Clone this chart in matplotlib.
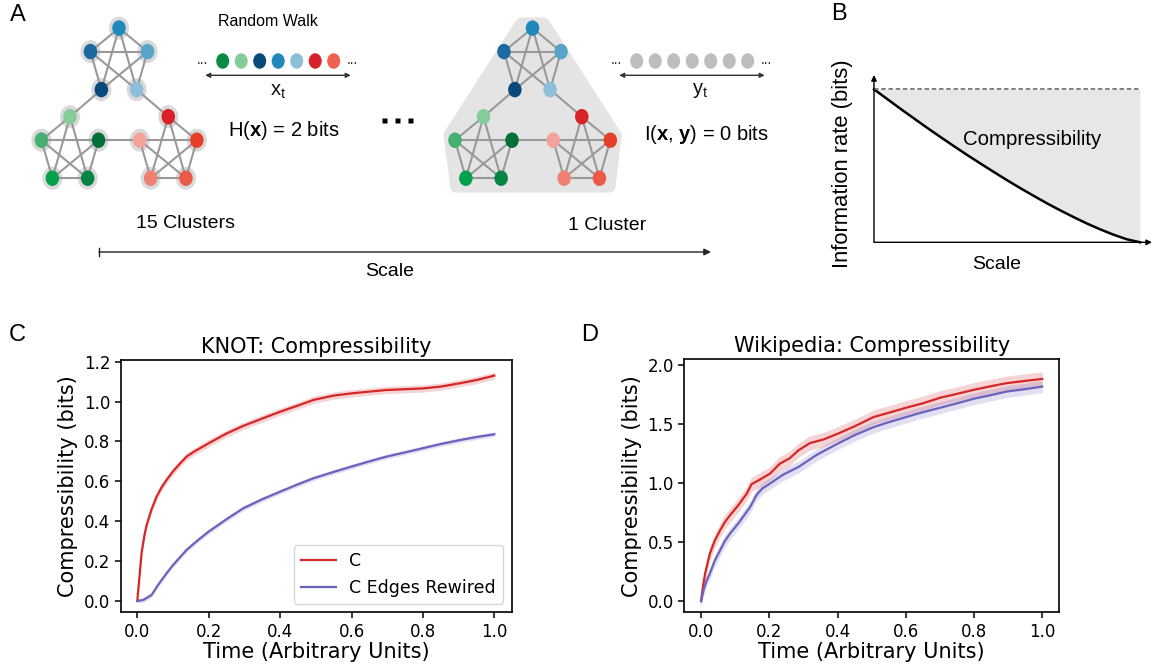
import numpy as np
import matplotlib
matplotlib.use("Agg")
import matplotlib.pyplot as plt
from matplotlib.patches import Ellipse, Polygon

plt.rcParams['font.family'] = ['DejaVu Sans']
plt.rcParams['mathtext.fontset'] = 'custom'
plt.rcParams['mathtext.rm'] = 'Liberation Sans'
plt.rcParams['mathtext.it'] = 'Liberation Sans:italic'
plt.rcParams['mathtext.bf'] = 'Liberation Sans:bold'
SANS = 'Liberation Sans'

# ---------------- data ----------------
# Panel A: modular network, node colours per cluster [top, upper-left, upper-right, lower-left, lower-right]
cluster_colors = [
    ['#2189b9', '#1c6aa0', '#5aa3c8', '#0a4a7a', '#8ebfd8'],   # blue module
    ['#86cc9a', '#45b070', '#03703a', '#04a04c', '#0a8443'],   # green module
    ['#d7222a', '#f4a39a', '#e4402a', '#f08072', '#ea5a48'],   # red module
]
walk_colors = ['#0b8a44', '#86cc9a', '#0a4a7a', '#2189b9', '#8ebfd8', '#d7222a', '#ee6150']
walk_gray = ['#bdbdbd'] * 7

# Panel B: schematic information rate vs scale
b_scale = [0.0, 0.05, 0.1, 0.15, 0.2, 0.25, 0.3, 0.35, 0.4, 0.45, 0.5,
           0.55, 0.6, 0.65, 0.7, 0.75, 0.8, 0.85, 0.9, 0.95, 1.0]
b_rate = [1.0, 0.936, 0.872, 0.810, 0.748, 0.688, 0.629, 0.571, 0.515, 0.460, 0.406,
          0.354, 0.304, 0.255, 0.209, 0.165, 0.123, 0.085, 0.050, 0.020, 0.0]

# Panel C: KNOT
knot_c_t = [0, 0.005, 0.012, 0.02, 0.026, 0.04, 0.054, 0.068, 0.082, 0.1, 0.12, 0.138, 0.16,
            0.2, 0.25, 0.297, 0.35, 0.4, 0.45, 0.493, 0.55, 0.6, 0.65, 0.698, 0.75, 0.8,
            0.85, 0.904, 0.95, 1.0]
knot_c = [0, 0.10, 0.24, 0.33, 0.38, 0.46, 0.523, 0.57, 0.607, 0.65, 0.69, 0.724, 0.75,
          0.791, 0.84, 0.878, 0.915, 0.949, 0.98, 1.008, 1.03, 1.041, 1.05, 1.058, 1.062, 1.066,
          1.075, 1.092, 1.108, 1.13]
knot_r_t = [0, 0.017, 0.04, 0.06, 0.082, 0.1, 0.138, 0.17, 0.2, 0.25, 0.297, 0.35, 0.4, 0.45,
            0.493, 0.55, 0.6, 0.65, 0.698, 0.75, 0.8, 0.85, 0.904, 0.95, 1.0]
knot_r = [0, 0.005, 0.03, 0.085, 0.139, 0.18, 0.256, 0.305, 0.348, 0.41, 0.465, 0.51, 0.548,
          0.585, 0.615, 0.647, 0.674, 0.70, 0.724, 0.745, 0.766, 0.787, 0.807, 0.822, 0.836]
knot_c_err = 0.018
knot_r_err = 0.012

# Panel D: Wikipedia
wiki_c_t = [0, 0.006, 0.012, 0.026, 0.04, 0.056, 0.07, 0.085, 0.109, 0.134, 0.148, 0.17, 0.202,
            0.231, 0.26, 0.285, 0.319, 0.36, 0.4, 0.45, 0.505, 0.55, 0.6, 0.65, 0.70, 0.75,
            0.798, 0.85, 0.896, 0.95, 1.0]
wiki_c = [0, 0.13, 0.234, 0.403, 0.51, 0.6, 0.67, 0.727, 0.811, 0.91, 0.99, 1.025, 1.079,
          1.164, 1.21, 1.276, 1.338, 1.37, 1.417, 1.48, 1.558, 1.595, 1.637, 1.675, 1.722, 1.755,
          1.789, 1.82, 1.846, 1.865, 1.882]
wiki_r_t = [0, 0.008, 0.016, 0.026, 0.04, 0.056, 0.07, 0.085, 0.109, 0.144, 0.163, 0.18, 0.202,
            0.24, 0.285, 0.34, 0.4, 0.45, 0.505, 0.55, 0.6, 0.65, 0.70, 0.75, 0.798, 0.85,
            0.896, 0.95, 1.0]
wiki_r = [0, 0.1, 0.17, 0.234, 0.34, 0.431, 0.51, 0.572, 0.657, 0.797, 0.9, 0.955, 0.995,
          1.07, 1.135, 1.24, 1.333, 1.405, 1.473, 1.515, 1.558, 1.6, 1.637, 1.675, 1.713, 1.745,
          1.775, 1.795, 1.817]
wiki_c_err = 0.06
wiki_r_err = 0.05

x_ticks = [0.0, 0.2, 0.4, 0.6, 0.8, 1.0]
knot_yticks = [0.0, 0.2, 0.4, 0.6, 0.8, 1.0, 1.2]
wiki_yticks = [0.0, 0.5, 1.0, 1.5, 2.0]

RED = '#d62728'
PURPLE = '#6b62bd'

# ---------------- figure ----------------
W, H = 1154, 664
fig = plt.figure(figsize=(W / 100, H / 100), dpi=100)

# overlay axes in pixel coordinates for the schematic panel A
ax0 = fig.add_axes([0, 0, 1, 1])
ax0.set_xlim(0, W)
ax0.set_ylim(H, 0)
ax0.axis('off')

# pentagon layout
angles = np.deg2rad([90, 162, 18, 234, 306])  # top, UL, UR, LL, LR
RX, RY = 30, 34
centers_left = [(119, 62.1), (70, 150.7), (168.3, 150.7)]
removed = [(3, 4), (0, 2), (0, 1)]
inter = [((0, 3), (1, 0)), ((0, 4), (2, 0)), ((1, 2), (2, 1))]
EDGE = '#999999'


def draw_network(dx, halos):
    pos = {}
    for c, (cx, cy) in enumerate(centers_left):
        for k, a in enumerate(angles):
            pos[(c, k)] = (cx + dx + RX * np.cos(a), cy - RY * np.sin(a))
    edges = []
    for c in range(3):
        for i in range(5):
            for j in range(i + 1, 5):
                if (i, j) != removed[c]:
                    edges.append(((c, i), (c, j)))
    edges += inter
    for a, b in edges:
        ax0.plot([pos[a][0], pos[b][0]], [pos[a][1], pos[b][1]], color=EDGE, lw=1.5,
                 zorder=2, solid_capstyle='round')
    for (c, k), (x, y) in pos.items():
        if halos:
            ax0.add_patch(Ellipse((x, y), 20, 23, facecolor='#d9d9d9', edgecolor='none', zorder=1))
        ax0.add_patch(Ellipse((x, y), 13.5, 15.5, facecolor=cluster_colors[c][k],
                              edgecolor='none', zorder=3))


# left network (15 clusters)
draw_network(0, True)
# right network (1 cluster) with hull
hull = Polygon([(521, 23), (544, 23), (616, 135), (610, 187), (456, 187), (449, 135)],
               closed=True, facecolor='#e4e4e5', edgecolor='#e4e4e5', lw=8,
               joinstyle='round', zorder=0.5)
ax0.add_patch(hull)
draw_network(413.5, False)


def draw_walk(x0, colors, label, xlabel_x):
    for i, col in enumerate(colors):
        ax0.add_patch(Ellipse((x0 + i * 18.5, 61), 13, 15.5, facecolor=col, edgecolor='none'))
    ax0.text(x0 - 20, 64, '...', fontsize=10, family=SANS, ha='center', va='baseline', color='#222')
    ax0.text(x0 + 6 * 18.5 + 19, 64, '...', fontsize=10, family=SANS, ha='center', va='baseline',
             color='#222')
    ax0.annotate('', xy=(x0 + 6 * 18.5 + 17, 75.3), xytext=(x0 - 17.5, 75.3),
                 arrowprops=dict(arrowstyle='<|-|>', color='#333333', lw=1,
                                 mutation_scale=7, shrinkA=0, shrinkB=0))
    ax0.text(xlabel_x, 91, label, fontsize=14.5, ha='center', va='center', color='#111')


draw_walk(222.7, walk_colors, r'$\mathrm{x_t}$', 278)
draw_walk(636.7, walk_gray, r'$\mathrm{y_t}$', 700)

ax0.text(268, 21, 'Random Walk', family=SANS, fontsize=11.5, ha='center', va='center')
ax0.text(284, 131, r'H($\mathbf{x}$) = 2 bits', family=SANS, fontsize=14.5, ha='center',
         va='center')
ax0.text(706, 134, r'I($\mathbf{x}$, $\mathbf{y}$) = 0 bits', family=SANS, fontsize=14.5,
         ha='center', va='center')
ax0.plot([383.5, 396.5, 409.5], [120, 120, 120], 's', ms=3.6, color='black', mec='none')
ax0.text(185, 224, '15 Clusters', family=SANS, fontsize=14, ha='center', va='center')
ax0.text(607, 225, '1 Cluster', family=SANS, fontsize=14, ha='center', va='center')

# scale arrow
ax0.annotate('', xy=(711, 252), xytext=(99, 252),
             arrowprops=dict(arrowstyle='-|>', color='#222222', lw=1, mutation_scale=10,
                             shrinkA=0, shrinkB=0))
ax0.plot([99, 99], [248, 256], color='#222222', lw=1)
ax0.text(390, 272, 'Scale', family=SANS, fontsize=14, ha='center', va='center')

# panel letters
for lab, (x, y) in {'A': (18, 15), 'B': (839, 14), 'C': (17, 335), 'D': (590, 335)}.items():
    ax0.text(x, y, lab, family=SANS, fontsize=17, ha='center', va='center')

# ---------------- panel B ----------------
axb = fig.add_axes([874 / W, (H - 242.3) / H, 266 / W, 153 / H])
axb.set_xlim(0, 1)
axb.set_ylim(0, 1)
axb.axis('off')
axb.fill_between(b_scale, b_rate, 1, color='#e7e7e7', lw=0)
axb.plot(b_scale, b_rate, color='black', lw=1.8, clip_on=False)
axb.plot([0, 1], [1, 1], color='#777777', lw=1.3, ls=(0, (2.5, 1.5)), clip_on=False)
axb.annotate('', xy=(1.045, 0), xytext=(0, 0), xycoords='axes fraction',
             arrowprops=dict(arrowstyle='-|>', color='black', lw=1, mutation_scale=8,
                             shrinkA=0, shrinkB=0))
axb.annotate('', xy=(0, 1.093), xytext=(0, 0), xycoords='axes fraction',
             arrowprops=dict(arrowstyle='-|>', color='black', lw=1, mutation_scale=8,
                             shrinkA=0, shrinkB=0))
axb.text(0.593, 0.673, 'Compressibility', family=SANS, fontsize=14.7, ha='center', va='center',
         transform=axb.transAxes)
axb.text(0.461, -0.148, 'Scale', family=SANS, fontsize=14, ha='center', va='center',
         transform=axb.transAxes)
axb.text(-0.118, 0.516, 'Information rate (bits)', family=SANS, fontsize=15.8, ha='center',
         va='center', rotation=90, transform=axb.transAxes)

# ---------------- panels C and D ----------------
axc = fig.add_axes([120.7 / W, (H - 612.3) / H, 391 / W, 252.3 / H])
axd = fig.add_axes([684.3 / W, (H - 612.3) / H, 375 / W, 253 / H])


def band(ax, t, y, err, color, label):
    t = np.asarray(t)
    y = np.asarray(y)
    ax.fill_between(t, y - err, y + err, color=color, alpha=0.2, lw=0)
    ax.plot(t, y, color=color, lw=1.6, label=label)


band(axc, knot_c_t, knot_c, knot_c_err, RED, 'C')
band(axc, knot_r_t, knot_r, knot_r_err, PURPLE, 'C Edges Rewired')
band(axd, wiki_c_t, wiki_c, wiki_c_err, RED, 'C')
band(axd, wiki_r_t, wiki_r, wiki_r_err, PURPLE, 'C Edges Rewired')

axc.set_xlim(-0.0465, 1.0487)
axc.set_ylim(-0.057, 1.2085)
axc.set_yticks(knot_yticks)
axd.set_xlim(-0.049, 1.05)
axd.set_ylim(-0.095, 2.048)
axd.set_yticks(wiki_yticks)

for ax, title in [(axc, 'KNOT: Compressibility'), (axd, 'Wikipedia: Compressibility')]:
    ax.set_xticks(x_ticks)
    ax.set_title(title, fontsize=15, pad=5)
    ax.set_xlabel('Time (Arbitrary Units)', fontsize=15, labelpad=1)
    ax.set_ylabel('Compressibility (bits)', fontsize=15, labelpad=4)
    ax.tick_params(labelsize=12, width=1.1, length=4)
    for s in ax.spines.values():
        s.set_linewidth(1.2)

axc.legend(loc='lower right', fontsize=12.5)

fig.savefig('out.png', dpi=100)
